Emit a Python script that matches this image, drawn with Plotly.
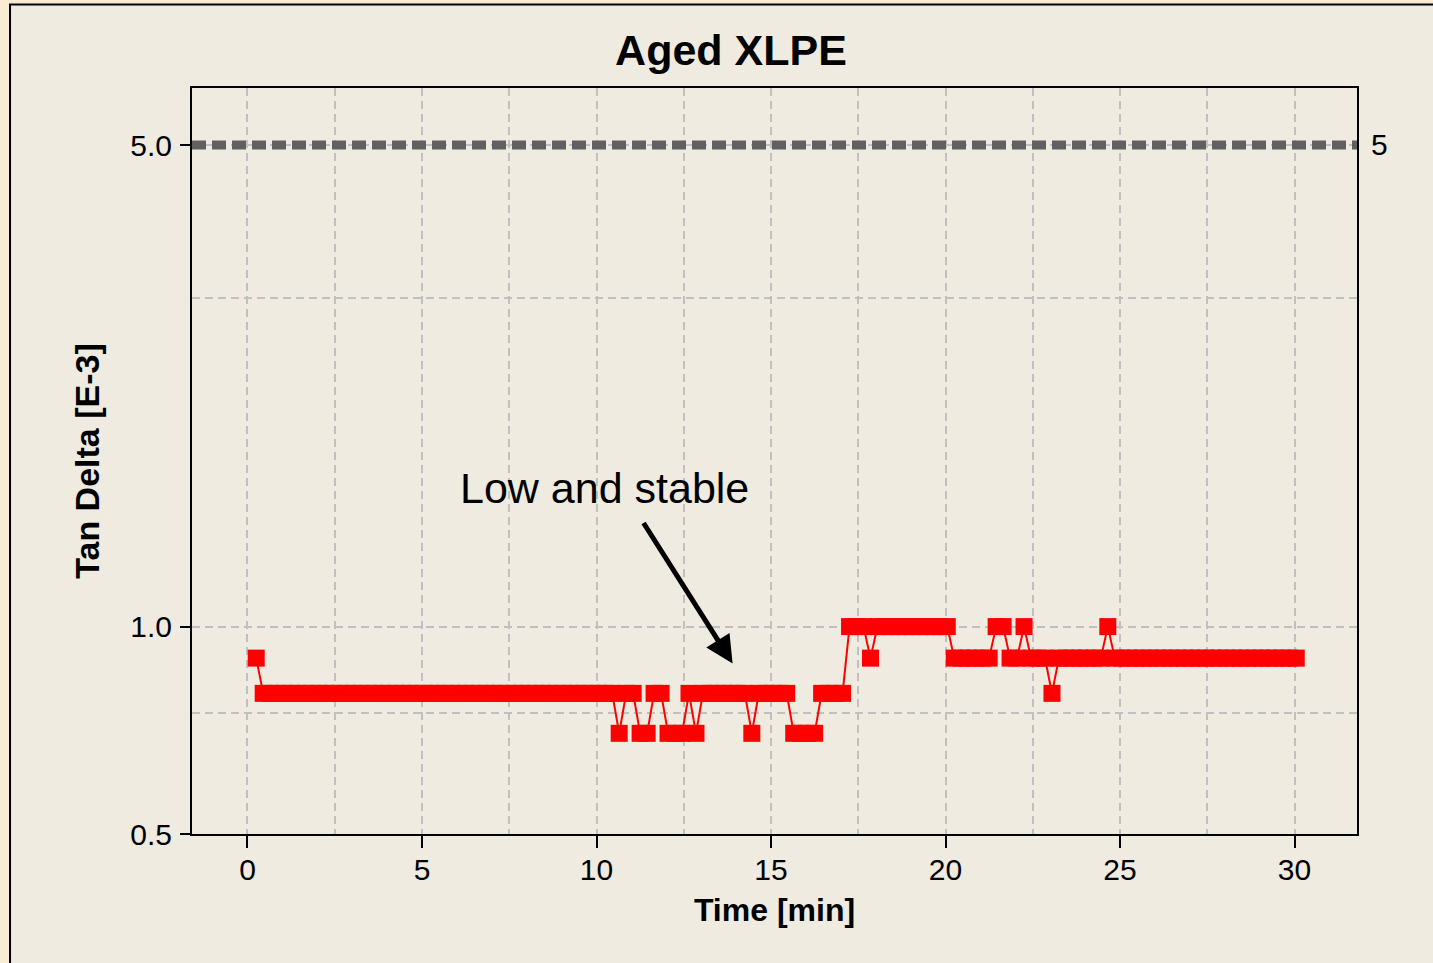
import math
import numpy as np
import plotly.graph_objects as go

# Measurement clock of the tan delta test
TIME_START = 0.25        # min
SAMPLE_INTERVAL = 0.2    # min

# Tan delta readings [E-3], one per sample
tan_delta = [
    0.9, 0.8, 0.8, 0.8, 0.8, 0.8, 0.8, 0.8, 0.8, 0.8,
    0.8, 0.8, 0.8, 0.8, 0.8, 0.8, 0.8, 0.8, 0.8, 0.8,
    0.8, 0.8, 0.8, 0.8, 0.8, 0.8, 0.8, 0.8, 0.8, 0.8,
    0.8, 0.8, 0.8, 0.8, 0.8, 0.8, 0.8, 0.8, 0.8, 0.8,
    0.8, 0.8, 0.8, 0.8, 0.8, 0.8, 0.8, 0.8, 0.8, 0.8,
    0.8, 0.8, 0.7, 0.8, 0.8, 0.7, 0.7, 0.8, 0.8, 0.7,
    0.7, 0.7, 0.8, 0.7, 0.8, 0.8, 0.8, 0.8, 0.8, 0.8,
    0.8, 0.7, 0.8, 0.8, 0.8, 0.8, 0.8, 0.7, 0.7, 0.7,
    0.7, 0.8, 0.8, 0.8, 0.8, 1.0, 1.0, 1.0, 0.9, 1.0,
    1.0, 1.0, 1.0, 1.0, 1.0, 1.0, 1.0, 1.0, 1.0, 1.0,
    0.9, 0.9, 0.9, 0.9, 0.9, 0.9, 1.0, 1.0, 0.9, 0.9,
    1.0, 0.9, 0.9, 0.9, 0.8, 0.9, 0.9, 0.9, 0.9, 0.9,
    0.9, 0.9, 1.0, 0.9, 0.9, 0.9, 0.9, 0.9, 0.9, 0.9,
    0.9, 0.9, 0.9, 0.9, 0.9, 0.9, 0.9, 0.9, 0.9, 0.9,
    0.9, 0.9, 0.9, 0.9, 0.9, 0.9, 0.9, 0.9, 0.9, 0.9,
]
time_min = np.round(TIME_START + SAMPLE_INTERVAL * np.arange(len(tan_delta)), 3)

# Acceptance limit
LIMIT = 5.0

# Axis ticks
x_ticks = [0, 5, 10, 15, 20, 25, 30]
y_ticks = [0.5, 1.0, 5.0]
y_tick_labels = ["0.5", "1.0", "5.0"]
y_minor_grid = [0.75, 3.0]

X_RANGE = [-1.59, 31.79]
Y_RANGE = [math.log10(0.5), 0.7817]

FONT = "Liberation Sans, Arial, sans-serif"
GRID = "#c0c0c0"

fig = go.Figure()

fig.add_trace(go.Scatter(
    x=time_min, y=tan_delta,
    mode="lines+markers",
    line=dict(color="#ff0000", width=2),
    marker=dict(symbol="square", size=17, color="#ff0000", line=dict(width=0)),
    showlegend=False,
))

# Outer panel with black frame
fig.add_shape(type="rect", xref="paper", yref="paper",
              x0=-0.1562, x1=1.08, y0=-0.2, y1=1.1118,
              fillcolor="#efebe0", line=dict(color="black", width=2),
              layer="below")

# Limit line
fig.add_shape(type="line", xref="x domain", yref="y",
              x0=0, x1=1, y0=LIMIT, y1=LIMIT,
              line=dict(color="#606060", width=9, dash="14px,6px"))

fig.add_annotation(text="5", xref="paper", yref="y", x=1, y=math.log10(LIMIT),
                   xanchor="left", yanchor="middle", xshift=12, yshift=1, showarrow=False,
                   font=dict(family=FONT, size=30, color="black"))

# Comment with arrow
fig.add_annotation(text="Low and stable", x=10.23, y=math.log10(1.59),
                   xref="x", yref="y", showarrow=False,
                   font=dict(family=FONT, size=43, color="black"))
fig.add_annotation(text="", x=13.9, y=math.log10(0.884), xref="x", yref="y",
                   ax=-90, ay=-142, axref="pixel", ayref="pixel",
                   showarrow=True, arrowhead=2, arrowsize=1.1, arrowwidth=5,
                   arrowcolor="black")

fig.update_layout(
    width=1433, height=963,
    margin=dict(l=192, r=76, t=88, b=129),
    paper_bgcolor="#faecd4",
    plot_bgcolor="white",
    font=dict(family=FONT, color="black"),
    title=dict(text="<b>Aged XLPE</b>", x=731 / 1433, xref="container", xanchor="center",
               y=1 - 50 / 963, yanchor="middle",
               font=dict(family=FONT, size=43, color="black")),
    xaxis=dict(
        range=X_RANGE, tickvals=x_ticks, ticks="outside", ticklen=12, tickwidth=2,
        tickcolor="black", showline=True, linecolor="black", linewidth=2, mirror=True,
        showgrid=True, gridcolor=GRID, gridwidth=2, griddash="8px,5px",
        minor=dict(dtick=2.5, tick0=0, showgrid=True, gridcolor=GRID, gridwidth=2,
                   griddash="8px,5px", ticks=""),
        zeroline=False, ticklabelstandoff=-4,
        tickfont=dict(family=FONT, size=30, color="black"),
        title=dict(text="<b>Time [min]</b>", standoff=14,
                   font=dict(family=FONT, size=32, color="black")),
    ),
    yaxis=dict(
        type="log", range=Y_RANGE, tickvals=y_ticks, ticktext=y_tick_labels,
        ticks="outside", ticklen=10, tickwidth=2, tickcolor="black",
        showline=True, linecolor="black", linewidth=2, mirror=True,
        showgrid=True, gridcolor=GRID, gridwidth=2, griddash="8px,5px",
        minor=dict(tickvals=y_minor_grid, showgrid=True, gridcolor=GRID, gridwidth=2,
                   griddash="8px,5px", ticks=""),
        zeroline=False, ticklabelstandoff=2,
        tickfont=dict(family=FONT, size=30, color="black"),
        title=dict(text="<b>Tan Delta [E-3]</b>", standoff=20,
                   font=dict(family=FONT, size=34, color="black")),
    ),
)

fig.write_html("out.html")
